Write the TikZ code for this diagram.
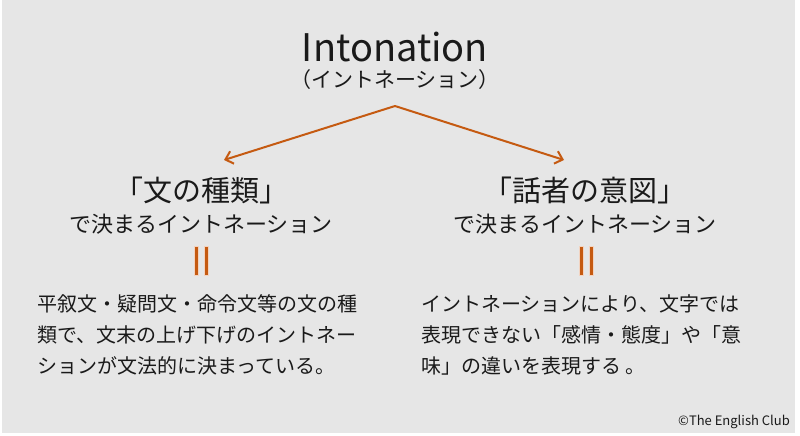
\documentclass[tikz,border=0pt]{standalone}
\usepackage{fontspec}
\setmainfont{Noto Sans CJK JP}
\usetikzlibrary{arrows.meta}
\definecolor{bg}{HTML}{E6E6E6}
\definecolor{accent}{HTML}{C55A11}
\definecolor{halo}{HTML}{F2D3C0}
\definecolor{ink}{HTML}{1A1A1A}
\begin{document}
\begin{tikzpicture}[x=1pt,y=-1pt,
  every node/.style={inner sep=0pt, text=ink},
  titletext/.style={font=\fontsize{38}{44}\selectfont},
  subtext/.style={font=\fontsize{21}{26}\selectfont},
  headtext/.style={font=\fontsize{29}{34}\selectfont},
  head2text/.style={font=\fontsize{22}{27}\selectfont},
  bodytext/.style={font=\fontsize{20}{31}\selectfont, align=left, anchor=west},
  branch/.style={draw=accent, line width=2pt, -{Straight Barb[length=7pt,width=13pt,line width=2pt]}},
  eqbar/.style={fill=accent, draw=halo, line width=0.8pt}
]
\useasboundingbox (0,0) rectangle (800,436);
\fill[bg] (2,0) rectangle (795,433);

\node[titletext] (title) at (395,47) {Intonation};
\node[subtext] (sub) at (395,80) {（イントネーション）};

\coordinate (split) at (395,106);
\coordinate (ltip) at (224,160);
\coordinate (rtip) at (564,160);
\draw[branch] (split) -- (ltip);
\draw[branch] (split) -- (rtip);

\node[headtext] (lhead) at (201,190) {「文の種類」};
\node[head2text] (lsub) at (201,224) {で決まるイントネーション};
\node[headtext] (rhead) at (585,190) {「話者の意図」};
\node[head2text] (rsub) at (585,224) {で決まるイントネーション};

\draw[eqbar] (194,246) rectangle (198,275);
\draw[eqbar] (204,246) rectangle (208,275);
\draw[eqbar] (579,246) rectangle (583,275);
\draw[eqbar] (589,246) rectangle (593,275);

\node[bodytext] (lbody) at (37,335) {平叙文・疑問文・命令文等の文の種\\類で、文末の上げ下げのイントネー\\ションが文法的に決まっている。};
\node[bodytext] (rbody) at (421,335) {イントネーションにより、文字では\\表現できない「感情・態度」や「意\\味」の違いを表現する 。};

\node[font=\fontsize{13}{15}\selectfont, anchor=east] (copy) at (790,422) {©The English Club};
\end{tikzpicture}
\end{document}
